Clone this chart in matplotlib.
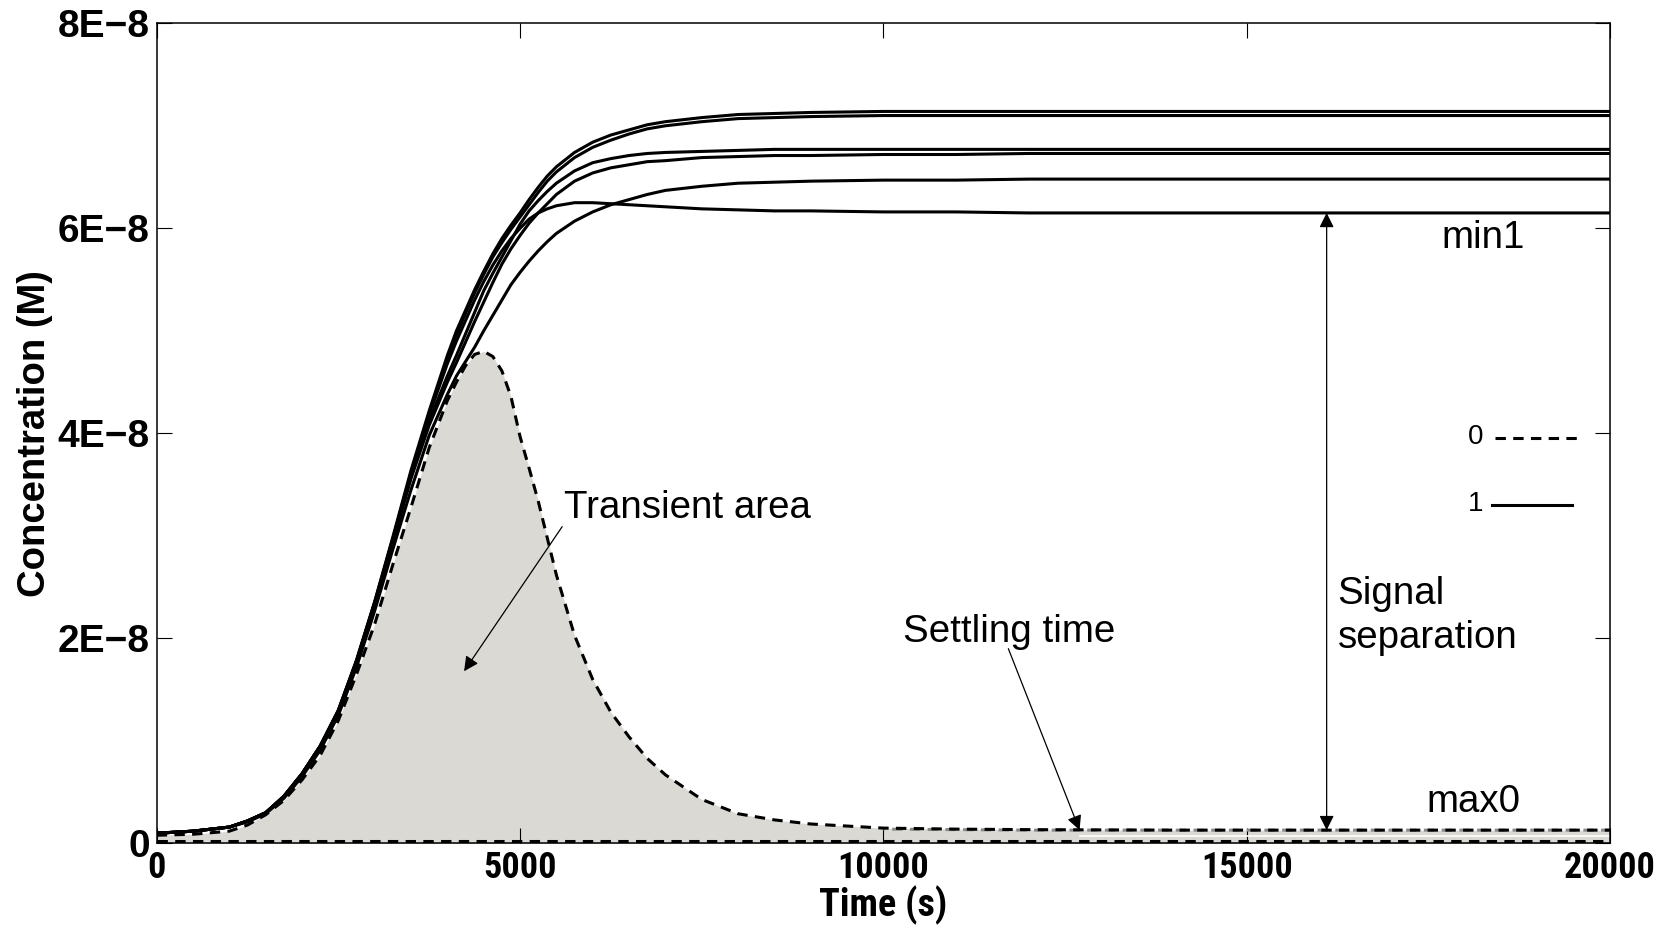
import matplotlib
matplotlib.use("Agg")
import matplotlib.pyplot as plt
from matplotlib import font_manager

# time axis (s)
t = [0, 500, 1000, 1250, 1500, 1750, 2000, 2250, 2500, 2750, 3000, 3250,
     3500, 3750, 4000, 4125, 4250, 4375, 4500, 4625, 4750, 4875, 5000,
     5125, 5250, 5375, 5500, 5750, 6000, 6250, 6500, 6750, 7000, 7500,
     8000, 8500, 9000, 10000, 11000, 12000, 14000, 16000, 18000, 20000]

# concentrations in units of 1E-8 M
# output "1" runs (solid)
one_a = [0.10, 0.12, 0.16, 0.22, 0.30, 0.46, 0.68, 0.95, 1.30, 1.79, 2.36, 2.99,
         3.64, 4.22, 4.76, 5.00, 5.20, 5.40, 5.58, 5.75, 5.90, 6.03, 6.15,
         6.28, 6.40, 6.51, 6.60, 6.74, 6.84, 6.91, 6.96, 7.01, 7.04, 7.08,
         7.11, 7.12, 7.13, 7.14, 7.14, 7.14, 7.14, 7.14, 7.14, 7.14]
one_b = [0.10, 0.12, 0.16, 0.22, 0.30, 0.46, 0.68, 0.95, 1.29, 1.78, 2.35, 2.97,
         3.62, 4.19, 4.72, 4.96, 5.17, 5.37, 5.55, 5.72, 5.86, 5.99, 6.11,
         6.23, 6.35, 6.46, 6.55, 6.69, 6.79, 6.86, 6.92, 6.97, 7.00, 7.04,
         7.07, 7.08, 7.09, 7.10, 7.10, 7.10, 7.10, 7.10, 7.10, 7.10]
one_c = [0.10, 0.12, 0.16, 0.22, 0.30, 0.46, 0.68, 0.95, 1.29, 1.77, 2.33, 2.95,
         3.58, 4.12, 4.56, 4.76, 4.97, 5.18, 5.39, 5.56, 5.72, 5.88, 6.04,
         6.17, 6.27, 6.36, 6.44, 6.56, 6.64, 6.68, 6.71, 6.73, 6.74, 6.75,
         6.76, 6.77, 6.77, 6.77, 6.77, 6.77, 6.77, 6.77, 6.77, 6.77]
one_d = [0.10, 0.12, 0.16, 0.22, 0.30, 0.45, 0.67, 0.94, 1.28, 1.76, 2.32, 2.94,
         3.56, 4.08, 4.50, 4.69, 4.89, 5.09, 5.28, 5.47, 5.65, 5.80, 5.93,
         6.05, 6.15, 6.24, 6.33, 6.46, 6.54, 6.59, 6.62, 6.65, 6.66, 6.69,
         6.70, 6.71, 6.71, 6.72, 6.72, 6.73, 6.73, 6.73, 6.73, 6.73]
one_e = [0.10, 0.12, 0.16, 0.21, 0.29, 0.44, 0.65, 0.91, 1.25, 1.72, 2.27, 2.87,
         3.45, 3.98, 4.38, 4.56, 4.70, 4.84, 5.00, 5.15, 5.30, 5.45, 5.57,
         5.68, 5.78, 5.87, 5.95, 6.07, 6.16, 6.23, 6.28, 6.33, 6.37, 6.41,
         6.44, 6.45, 6.46, 6.47, 6.47, 6.48, 6.48, 6.48, 6.48, 6.48]
one_min = [0.10, 0.12, 0.16, 0.22, 0.30, 0.46, 0.68, 0.95, 1.30, 1.78, 2.35, 2.97,
           3.60, 4.18, 4.68, 4.90, 5.10, 5.30, 5.48, 5.64, 5.78, 5.90, 6.00,
           6.09, 6.15, 6.19, 6.22, 6.25, 6.25, 6.24, 6.23, 6.22, 6.21, 6.19,
           6.18, 6.17, 6.17, 6.16, 6.16, 6.15, 6.15, 6.15, 6.15, 6.15]

# output "0" runs (dashed)
zero_peak = [0.08, 0.09, 0.12, 0.18, 0.28, 0.42, 0.62, 0.86, 1.20, 1.65, 2.14, 2.72,
             3.28, 3.86, 4.32, 4.50, 4.66, 4.77, 4.80, 4.75, 4.61, 4.36, 3.97,
             3.66, 3.34, 2.98, 2.62, 2.03, 1.60, 1.28, 1.04, 0.83, 0.67, 0.43,
             0.29, 0.23, 0.19, 0.15, 0.14, 0.135, 0.13, 0.13, 0.13, 0.13]
zero_low = [0.02] * len(t)
t_settled = [10000, 12000, 14000, 16000, 18000, 20000]
zero_settled = [0.14, 0.13, 0.13, 0.13, 0.13, 0.13]

# markers
settling_t = 12700
max0 = 0.13
min1 = 6.15
separation_t = 16100

yticks = [0, 2, 4, 6, 8]
ytick_labels = ['0', '2E\u22128', '4E\u22128', '6E\u22128', '8E\u22128']
xticks = [0, 5000, 10000, 15000, 20000]

plt.rcParams['font.family'] = ['Liberation Sans', 'DejaVu Sans']
installed = {f.name for f in font_manager.fontManager.ttflist}
narrow = ['Liberation Sans']
for cand in ['Liberation Sans Narrow', 'Roboto Condensed', 'Open Sans Condensed']:
    if cand in installed:
        narrow = [cand, 'Liberation Sans']
        break

fig = plt.figure(figsize=(16.74, 9.27), dpi=100)
ax = fig.add_axes([0.0936, 0.0901, 0.8682, 0.8848])

dash = (0, (3.4, 2.4))
ax.fill_between(t, 0, zero_peak, color='#dbd9d3', lw=0, zorder=1)
ax.plot([settling_t, 20000], [0.075, 0.075], color='white', lw=1.2, zorder=2)
ax.plot(t_settled, zero_settled, color='#8a8a8a', lw=2.2, linestyle=(2.9, (3.4, 2.4)), zorder=2)
ax.plot(t, zero_low, color='black', lw=2.2, linestyle=dash, zorder=3)
ax.plot(t, zero_peak, color='black', lw=2.2, linestyle=dash, zorder=3)

for ys in [one_e, one_d, one_c, one_min, one_b, one_a]:
    ax.plot(t, ys, color='black', lw=2.2, zorder=4)

ax.set_xlim(0, 20000)
ax.set_ylim(0, 8)
ax.set_xticks(xticks)
xsize = 26 if narrow[0] != 'Liberation Sans' else 24.5
ax.set_xticklabels([str(v) for v in xticks], family=narrow, weight='bold', fontsize=xsize)
ax.set_yticks(yticks)
ax.set_yticklabels(ytick_labels, weight='bold', fontsize=28)
ax.tick_params(direction='in', length=10.5, width=0.8, top=True, right=True)
ax.tick_params(axis='x', pad=5)
ax.tick_params(axis='y', pad=5)
for s in ax.spines.values():
    s.set_linewidth(1.1)

ax.set_xlabel('Time (s)', family=narrow, weight='bold', fontsize=xsize + 1.5)
ax.xaxis.set_label_coords(0.5, -0.0884)
ax.xaxis.label.set_va('baseline')
ax.set_ylabel('Concentration (M)', weight='bold', fontsize=27.5, labelpad=3)

# annotations
arrow = dict(arrowstyle='-|>', color='black', lw=0.9, mutation_scale=22, shrinkA=0, shrinkB=0)
fs = 27.7
ax.text(5600, 3.17, 'Transient area', fontsize=fs, ha='left', va='baseline')
ax.annotate('', xy=(4230, 1.68), xytext=(5580, 3.09), arrowprops=arrow)
ax.text(10265, 1.97, 'Settling time', fontsize=fs, ha='left', va='baseline')
ax.annotate('', xy=(settling_t, max0), xytext=(11720, 1.90), arrowprops=arrow)
ax.annotate('', xy=(separation_t, min1), xytext=(separation_t, max0),
            arrowprops=dict(arrowstyle='<|-|>', color='black', lw=0.9, mutation_scale=22,
                            shrinkA=0, shrinkB=0))
ax.text(16250, 2.34, 'Signal', fontsize=fs, ha='left', va='baseline')
ax.text(16250, 1.91, 'separation', fontsize=fs, ha='left', va='baseline')
ax.text(17680, 5.81, 'min1', fontsize=fs, ha='left', va='baseline')
ax.text(17470, 0.31, 'max0', fontsize=fs, ha='left', va='baseline')

# key
ax.text(18150, 3.96, '0', fontsize=20, ha='center', va='center')
ax.plot([18416, 19540], [3.95, 3.95], color='black', lw=2.2, linestyle=dash)
ax.text(18150, 3.31, '1', fontsize=20, ha='center', va='center')
ax.plot([18370, 19470], [3.30, 3.30], color='black', lw=2.2)

fig.savefig('out.png', dpi=100)
